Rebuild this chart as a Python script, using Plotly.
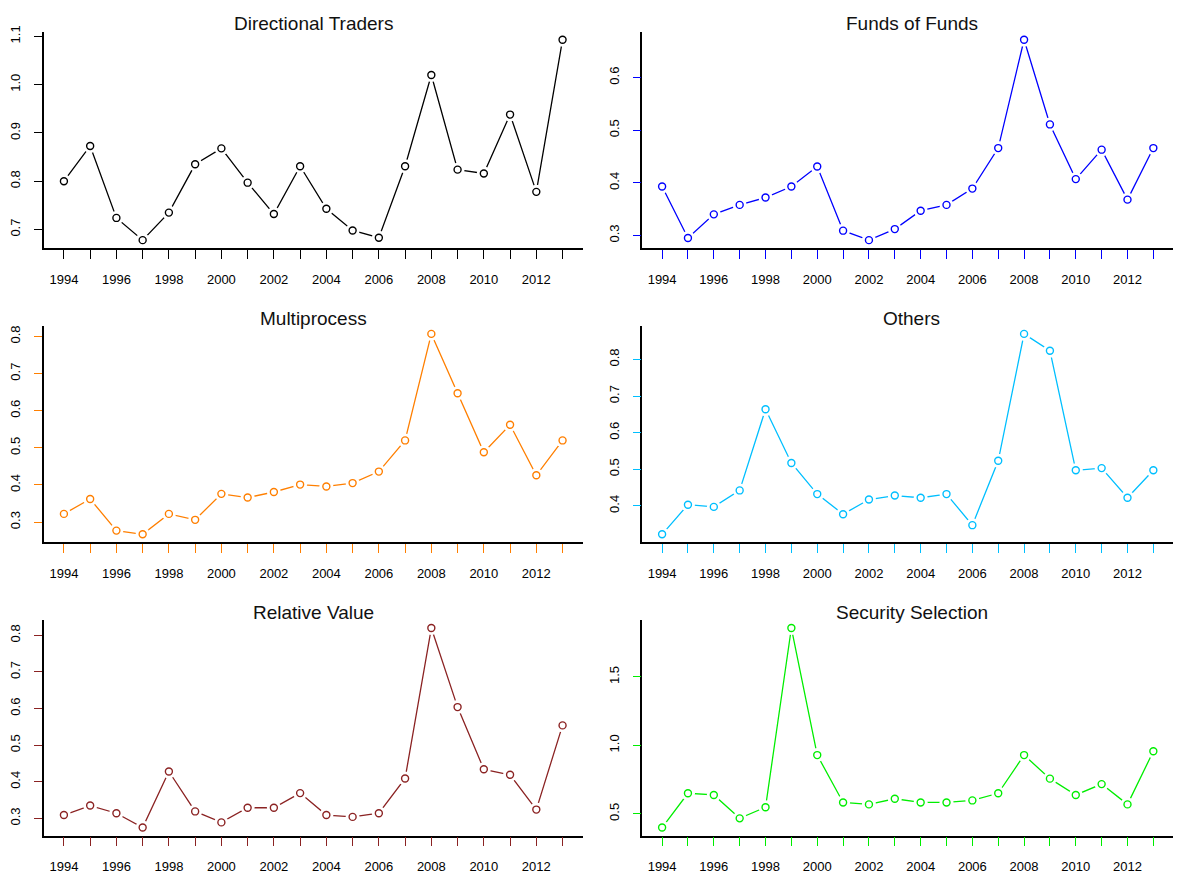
import plotly.graph_objects as go

years = list(range(1994, 2014))

directional_traders = [0.800, 0.873, 0.724, 0.678, 0.735, 0.835, 0.868, 0.797, 0.732, 0.831,
                       0.743, 0.698, 0.683, 0.831, 1.020, 0.824, 0.816, 0.938, 0.778, 1.093]
funds_of_funds = [0.393, 0.295, 0.340, 0.358, 0.372, 0.393, 0.431, 0.309, 0.291, 0.312,
                  0.347, 0.358, 0.389, 0.466, 0.672, 0.511, 0.407, 0.463, 0.368, 0.466]
multiprocess = [0.322, 0.362, 0.277, 0.267, 0.322, 0.306, 0.376, 0.366, 0.381, 0.401,
                0.396, 0.405, 0.436, 0.520, 0.807, 0.647, 0.488, 0.562, 0.426, 0.520]
others = [0.322, 0.403, 0.397, 0.442, 0.664, 0.517, 0.432, 0.377, 0.417, 0.428,
          0.422, 0.432, 0.347, 0.523, 0.870, 0.824, 0.497, 0.503, 0.422, 0.497]
relative_value = [0.309, 0.335, 0.314, 0.275, 0.428, 0.319, 0.289, 0.329, 0.329, 0.369,
                  0.309, 0.304, 0.314, 0.409, 0.820, 0.604, 0.434, 0.419, 0.324, 0.554]
security_selection = [0.400, 0.650, 0.638, 0.467, 0.548, 1.857, 0.929, 0.583, 0.569, 0.610,
                      0.583, 0.583, 0.598, 0.650, 0.929, 0.757, 0.638, 0.717, 0.569, 0.957]

titles = ["Directional Traders", "Funds of Funds", "Multiprocess", "Others",
          "Relative Value", "Security Selection"]
series = [directional_traders, funds_of_funds, multiprocess, others,
          relative_value, security_selection]
colors = ["#000000", "#0000FF", "#FF7F00", "#00BFFF", "#8B2323", "#00EE00"]
ytick_vals = [[0.7, 0.8, 0.9, 1.0, 1.1], [0.3, 0.4, 0.5, 0.6], [0.3, 0.4, 0.5, 0.6, 0.7, 0.8],
              [0.4, 0.5, 0.6, 0.7, 0.8], [0.3, 0.4, 0.5, 0.6, 0.7, 0.8], [0.5, 1.0, 1.5]]
ytick_text = [["0.7", "0.8", "0.9", "1.0", "1.1"], ["0.3", "0.4", "0.5", "0.6"],
              ["0.3", "0.4", "0.5", "0.6", "0.7", "0.8"], ["0.4", "0.5", "0.6", "0.7", "0.8"],
              ["0.3", "0.4", "0.5", "0.6", "0.7", "0.8"], ["0.5", "1.0", "1.5"]]
xtick_text = [str(y) if y % 2 == 0 else "" for y in years]

# page body has an 8px margin; lay out in reference pixel coords minus that offset
OFF = 8
W, H = 1181 - 2 * OFF, 882 - 2 * OFF
col_px = [(43, 582), (642, 1181)]
row_px = [(26, 246), (325, 545), (624, 843)]

fig = go.Figure()
font_family = "Liberation Sans, Arial, sans-serif"

for i, (title, vals, col, tv, tt) in enumerate(zip(titles, series, colors, ytick_vals, ytick_text)):
    r, c = divmod(i, 2)
    n = i + 1
    xa = "x" if n == 1 else f"x{n}"
    ya = "y" if n == 1 else f"y{n}"
    fig.add_trace(go.Scatter(x=years, y=vals, mode="lines", xaxis=xa, yaxis=ya,
                             line=dict(color=col, width=1.3), showlegend=False, hoverinfo="skip"))
    fig.add_trace(go.Scatter(x=years, y=vals, mode="markers", xaxis=xa, yaxis=ya,
                             marker=dict(symbol="circle", size=14, color="white",
                                         line=dict(width=0)), showlegend=False, hoverinfo="skip"))
    fig.add_trace(go.Scatter(x=years, y=vals, mode="markers", xaxis=xa, yaxis=ya,
                             marker=dict(symbol="circle-open", size=7, color=col,
                                         line=dict(width=1.4, color=col)),
                             showlegend=False))
    x0, x1 = col_px[c][0] - OFF, col_px[c][1] - OFF
    y0, y1 = row_px[r][0] - OFF, row_px[r][1] - OFF
    vmin, vmax = min(vals), max(vals)
    pad = (vmax - vmin) * 0.04
    xkey = "xaxis" if n == 1 else f"xaxis{n}"
    ykey = "yaxis" if n == 1 else f"yaxis{n}"
    fig.layout[xkey] = dict(
        domain=[x0 / W, min(x1 / W, 1.0)], anchor=ya,
        range=[1994 - 0.76, 2013 + 0.76],
        tickmode="array", tickvals=years, ticktext=xtick_text,
        ticks="outside", ticklen=9, tickwidth=1.3, tickcolor=col,
        ticklabelstandoff=9,
        showline=True, linecolor="black", linewidth=1.5,
        showgrid=False, zeroline=False,
        tickfont=dict(family=font_family, size=13, color="#000000"),
        fixedrange=True,
    )
    fig.layout[ykey] = dict(
        domain=[1 - y1 / H, 1 - y0 / H], anchor=xa,
        range=[vmin - pad, vmax + pad],
        tickmode="array", tickvals=tv, ticktext=tt,
        ticks="outside", ticklen=8, tickwidth=1.3, tickcolor=col,
        ticklabelstandoff=9,
        showline=True, linecolor="black", linewidth=1.5,
        showgrid=False, zeroline=False, tickangle=-90,
        tickfont=dict(family=font_family, size=13, color="#000000"),
        fixedrange=True,
    )
    fig.add_annotation(text=title, xref="paper", yref="paper",
                       x=((x0 + x1) / 2) / W, y=1 - (y0 - 8) / H,
                       xanchor="center", yanchor="middle", showarrow=False,
                       font=dict(family=font_family, size=19, color="#111111"))

fig.update_layout(width=W, height=H, margin=dict(l=0, r=0, t=0, b=0),
                  paper_bgcolor="white", plot_bgcolor="white")

fig.write_html("out.html")
